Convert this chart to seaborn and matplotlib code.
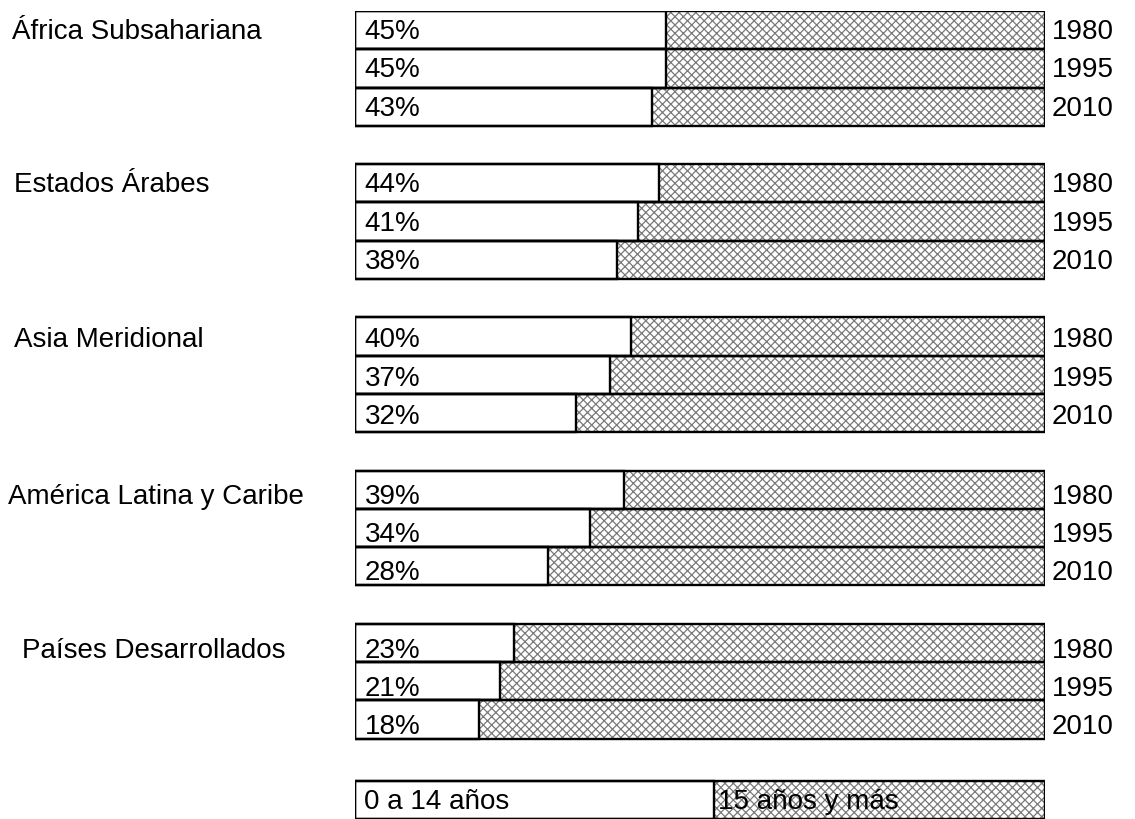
import numpy as np
import pandas as pd
import matplotlib
matplotlib.use("Agg")
import matplotlib.pyplot as plt
from matplotlib.transforms import blended_transform_factory
import seaborn as sns

# Share of population aged 0-14 (%) by region and year
regions = ["África Subsahariana", "Estados Árabes", "Asia Meridional",
           "América Latina y Caribe", "Países Desarrollados"]
years = ["1980", "1995", "2010"]
young_share = [
    [45, 45, 43],
    [44, 41, 38],
    [40, 37, 32],
    [39, 34, 28],
    [23, 21, 18],
]
legend_labels = ["0 a 14 años", "15 años y más"]

sns.set_theme(style="white")
plt.rcParams["font.family"] = ["Liberation Sans", "DejaVu Sans"]
plt.rcParams["hatch.linewidth"] = 0.9
plt.rcParams["text.color"] = "black"

rows = []
for g, (reg, vals) in enumerate(zip(regions, young_share)):
    for j, (yr, v) in enumerate(zip(years, vals)):
        rows.append({"region": reg, "group": g, "year": yr,
                     "pos": g * 4 + j, "joven": v, "total": 100})
df = pd.DataFrame(rows)

fig = plt.figure(figsize=(11.35, 8.2), dpi=100)
ax = fig.add_axes([355 / 1135, 0, 690 / 1135, 1 - 12 / 820])

grey_hatch = "#7a7a7a"
edge_w = 1.7
# full-width bar: textured "15 años y más" part
sns.barplot(data=df, x="total", y="pos", orient="y", native_scale=True,
            color="white", saturation=1, hatch="xxxx", edgecolor=grey_hatch,
            linewidth=0, width=1, ax=ax, errorbar=None)
# white "0 a 14 años" part
sns.barplot(data=df, x="joven", y="pos", orient="y", native_scale=True,
            color="white", saturation=1, edgecolor="black", linewidth=edge_w,
            width=1, ax=ax, errorbar=None)
# outline of the full bar
sns.barplot(data=df, x="total", y="pos", orient="y", native_scale=True,
            fill=False, edgecolor="black", linewidth=edge_w,
            width=1, ax=ax, errorbar=None)

# legend bar
leg_y = 20.11
leg_split = 52
ax.barh(leg_y, 100, height=1, color="white", hatch="xxxx",
        edgecolor=grey_hatch, linewidth=0)
ax.barh(leg_y, leg_split, height=1, color="white", edgecolor="black",
        linewidth=edge_w)
ax.barh(leg_y, 100, height=1, fill=False, edgecolor="black", linewidth=edge_w)

px = 808 / 21.1          # pixels per bar unit on the y axis
base_off = [8, 8, 10, 13, 14]   # baseline drop below row centre, in pixels
fs = 20
for _, r in df.iterrows():
    yb = r["pos"] + base_off[r["group"]] / px
    ax.text(1.4, yb, f"{r['joven']}%", ha="left", va="baseline",
            fontsize=fs, color="black")
    ax.text(101.0, yb, r["year"], ha="left", va="baseline",
            fontsize=fs, color="black", clip_on=False)

trans = blended_transform_factory(fig.transFigure, ax.transData)
label_x = [12, 14, 14, 8, 22]
for g, reg in enumerate(regions):
    ax.text(label_x[g] / 1135, g * 4 + base_off[g] / px, reg, transform=trans,
            ha="left", va="baseline", fontsize=fs, color="black",
            clip_on=False)

ax.text(1.3, leg_y + 8 / px, legend_labels[0], ha="left", va="baseline",
        fontsize=fs, color="black")
ax.text(leg_split + 0.6, leg_y + 8 / px, legend_labels[1], ha="left",
        va="baseline", fontsize=fs, color="black")

ax.set_xlim(0, 100)
ax.set_ylim(20.6, -0.5)
ax.set_axis_off()

fig.savefig("out.png", dpi=100, facecolor="white")
